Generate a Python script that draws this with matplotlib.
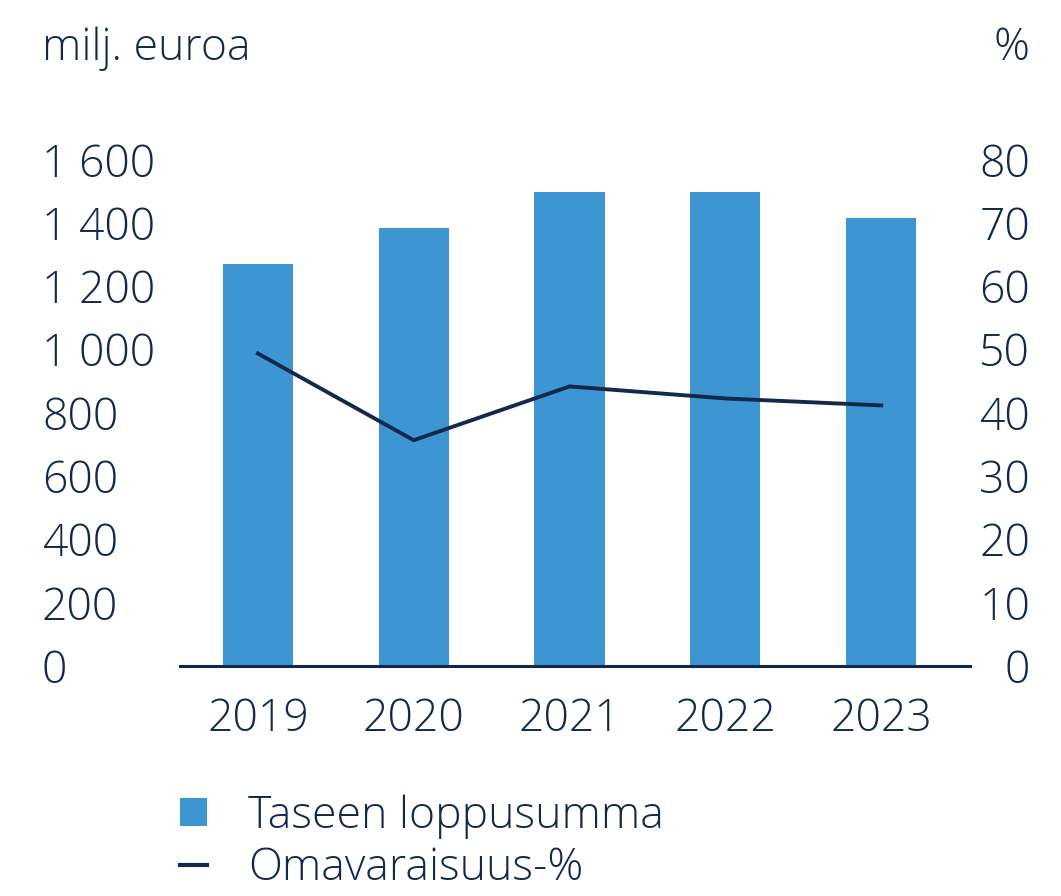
import matplotlib
matplotlib.use("Agg")
import matplotlib.pyplot as plt
from matplotlib.patches import Patch
from matplotlib.lines import Line2D

years = ["2019", "2020", "2021", "2022", "2023"]
taseen_loppusumma = [1270, 1385, 1499, 1499, 1416]
omavaraisuus = [49.4, 35.7, 44.2, 42.3, 41.2]
left_ticks = [0, 200, 400, 600, 800, 1000, 1200, 1400, 1600]
left_labels = ["0", "200", "400", "600", "800", "1 000", "1 200", "1 400", "1 600"]
right_ticks = [0, 10, 20, 30, 40, 50, 60, 70, 80]

navy = "#13294b"
blue = "#3d95d2"
plt.rcParams['font.family'] = ['Open Sans', 'DejaVu Sans']
plt.rcParams['font.weight'] = 'light'
fs = 32

W, H = 1061, 896
fig = plt.figure(figsize=(W / 100, H / 100), dpi=100)
ax = fig.add_axes([180 / W, (H - 666) / H, 790 / W, 506 / H])
x = list(range(len(years)))
ax.bar(x, taseen_loppusumma, width=0.45, color=blue, zorder=2)
ax.set_xlim(-0.5, 4.57)
ax.set_ylim(0, 1600)
for s in ["top", "left", "right"]:
    ax.spines[s].set_visible(False)
ax.spines["bottom"].set_color(navy)
ax.spines["bottom"].set_linewidth(2.2)
ax.spines["bottom"].set_zorder(3)
ax.set_xticks(x, years)
ax.set_yticks(left_ticks, left_labels)
ax.tick_params(axis="x", length=0, pad=23, labelsize=fs, labelcolor=navy)
ax.tick_params(axis="y", length=0, pad=99.4, labelsize=fs, labelcolor=navy)
for t in ax.get_yticklabels():
    t.set_ha("left")

ax2 = ax.twinx()
ax2.plot(x, omavaraisuus, color=navy, lw=2.8, zorder=4)
ax2.set_ylim(0, 80)
for s in ax2.spines.values():
    s.set_visible(False)
ax2.set_yticks(right_ticks, [str(v) for v in right_ticks])
ax2.tick_params(axis="y", length=0, pad=43.2, labelsize=fs, labelcolor=navy)
for t in ax2.get_yticklabels():
    t.set_ha("right")

fig.text(42 / W, 1 - 60 / H, "milj. euroa", fontsize=fs, color=navy, ha="left", va="baseline")
fig.text(1030 / W, 1 - 60 / H, "%", fontsize=fs, color=navy, ha="right", va="baseline")

handles = [Patch(facecolor=blue, edgecolor="none"),
           Line2D([], [], color=navy, lw=3)]
fig.legend(handles, ["Taseen loppusumma", "Omavaraisuus-%"],
           loc="upper left", bbox_to_anchor=(180 / W, 1 - 794 / H),
           frameon=False, fontsize=fs, labelcolor=navy,
           handlelength=0.61, handleheight=0.61, handletextpad=0.92,
           labelspacing=0.18, borderaxespad=0, borderpad=0)

fig.savefig("out.png", dpi=100)
